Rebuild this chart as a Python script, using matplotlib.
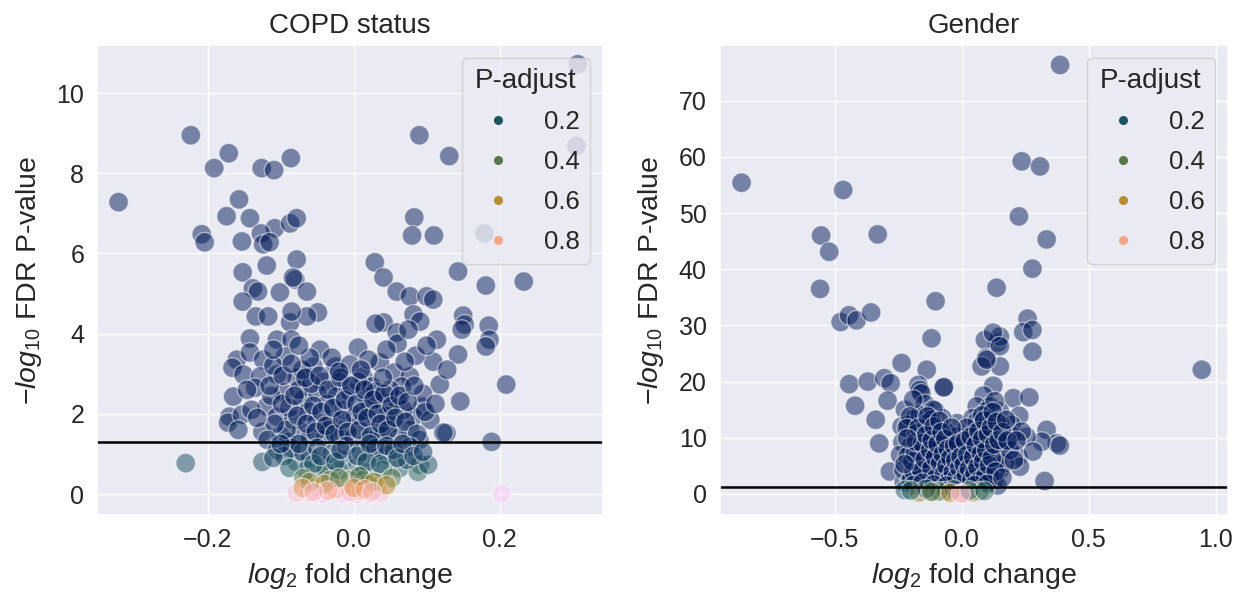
import numpy as np
import matplotlib.pyplot as plt
import seaborn as sns
from matplotlib.colors import LinearSegmentedColormap, Normalize
from matplotlib.lines import Line2D
from matplotlib.ticker import MultipleLocator

sns.set_theme(style="darkgrid")
plt.rcParams['font.family'] = ['Liberation Sans', 'DejaVu Sans']
plt.rcParams['mathtext.fontset'] = 'custom'
plt.rcParams['mathtext.rm'] = 'Liberation Sans'
plt.rcParams['mathtext.it'] = 'Liberation Sans:italic'
plt.rcParams.update({
    'xtick.labelsize': 18, 'ytick.labelsize': 18,
    'axes.labelsize': 20.5, 'axes.titlesize': 20,
    'legend.fontsize': 18.5, 'legend.title_fontsize': 20,
})

# ── COPD status: log2 fold change / -log10 FDR ────────────────────────────────
copd_lfc = [
    # upper-left tail
    -0.322, -0.223, -0.171, -0.191, -0.126, -0.109, -0.086, -0.157, -0.174, -0.142,
    -0.208, -0.204, -0.153, -0.108, -0.087, -0.078, -0.127, -0.124, -0.115, -0.152,
    -0.119, -0.078, -0.138, -0.131, -0.152, -0.101, -0.080, -0.064, -0.134, -0.117,
    -0.087, -0.049, -0.064, -0.142, -0.105, -0.085, -0.083, -0.085,
    # upper-right tail
    0.307, 0.305, 0.090, 0.131, 0.083, 0.080, 0.110, 0.179, 0.029, 0.041,
    0.059, 0.077, 0.100, 0.109, 0.143, 0.181, 0.233, 0.150, 0.152, 0.148,
    0.185, 0.186, 0.181, 0.143, 0.209, 0.146, 0.189, 0.127, 0.041, 0.082,
    0.091, 0.114, 0.059, 0.030, 0.060, 0.075,
    # core
    -0.046, 0.006, -0.160, -0.142, -0.124, -0.094, -0.055, -0.025, -0.005, 0.036,
    0.056, 0.077, 0.109, 0.118, 0.128, -0.166, -0.151, -0.128, -0.105, -0.078,
    -0.042, -0.019, 0.013, 0.025, 0.066, 0.094, -0.165, -0.170, -0.172, -0.153,
    -0.119, -0.096, -0.069, -0.050, -0.023, -0.005, 0.018, 0.041, 0.059, 0.082,
    0.105, 0.123, -0.125, -0.105, -0.083, -0.050, -0.030, -0.009, 0.013, 0.032,
    0.054, 0.077,
    -0.088, -0.075, -0.062, -0.058, -0.036, -0.033, -0.014, 0.002, 0.006, 0.022,
    0.030, 0.045, 0.050, 0.068, -0.072, -0.060, -0.040, -0.020, 0.000, 0.020,
    0.040, 0.062, -0.100, -0.113, -0.135, -0.140, -0.110, -0.070, -0.030, 0.020,
    0.045, 0.085, 0.095, 0.100, 0.090, -0.090,
    -0.115, -0.098, -0.092, -0.081, -0.077, -0.066, -0.064, -0.055, -0.052, -0.047,
    -0.044, -0.038, -0.035, -0.028, -0.026, -0.018, -0.016, -0.012, -0.008, -0.003,
    0.004, 0.008, 0.011, 0.015, 0.019, 0.024, 0.027, 0.033, 0.037, 0.042,
    0.047, 0.052, 0.057, 0.063, 0.071, 0.074, 0.083, 0.087, 0.098, 0.112,
    -0.108, -0.118, -0.132, -0.146, -0.158, -0.097, -0.060, -0.020, 0.010, 0.040,
    0.070, -0.085, -0.110, -0.075,
    # just below the threshold
    -0.230, -0.125, -0.105, -0.078, -0.060, -0.042, -0.015, 0.004, 0.026, 0.046,
    0.063, 0.077, 0.091, 0.088, 0.102, 0.073, -0.085, -0.070, -0.050, -0.030,
    -0.010, 0.010, 0.030, 0.055, -0.095, -0.040, -0.020, 0.015, 0.040, -0.065,
    -0.110, -0.088, -0.075, -0.055, -0.045, -0.025, -0.018, 0.005, 0.018, 0.022,
    0.036, 0.045, 0.060, 0.067, 0.082, 0.095, -0.100,
    # not significant
    0.052, -0.069, -0.050, -0.032, -0.005, 0.013, 0.032, -0.015, 0.004, 0.022,
    0.036, -0.042, -0.060, -0.078, 0.203, -0.025, 0.000, 0.020, -0.005, 0.010,
    -0.060, -0.040, -0.020, 0.008, 0.028, 0.045, -0.070, 0.000, 0.015, -0.035,
    0.025, -0.055,
]
copd_logp = [
    7.28, 8.95, 8.50, 8.13, 8.13, 8.08, 8.38, 7.35, 6.93, 6.88,
    6.48, 6.28, 6.30, 6.63, 6.75, 6.88, 6.50, 6.23, 6.28, 5.53,
    5.70, 5.85, 5.13, 5.05, 4.80, 5.03, 5.35, 5.05, 4.43, 4.43,
    4.28, 4.53, 4.43, 3.88, 3.85, 3.85, 5.40, 4.55,
    10.72, 8.68, 8.95, 8.43, 6.90, 6.45, 6.45, 6.50, 5.78, 5.40,
    5.05, 4.93, 4.93, 4.85, 5.55, 5.20, 5.30, 4.45, 4.23, 4.10,
    4.20, 3.85, 3.68, 3.48, 2.73, 2.31, 1.30, 1.52, 4.28, 4.48,
    4.30, 3.85, 4.03, 4.25, 3.75, 4.10,
    3.60, 3.65, 3.35, 3.53, 3.35, 3.43, 3.18, 3.18, 3.23, 3.28,
    3.03, 2.93, 3.30, 2.73, 3.10, 3.15, 2.98, 2.93, 2.98, 2.90,
    2.80, 2.78, 2.93, 2.68, 2.68, 2.18, 2.43, 1.93, 1.78, 1.98,
    2.18, 2.53, 2.35, 2.53, 2.43, 2.53, 2.43, 2.28, 2.35, 1.93,
    1.85, 1.53, 1.55, 1.93, 1.85, 1.78, 1.85, 1.68, 1.78, 1.60,
    1.78, 1.60,
    2.15, 2.60, 2.05, 2.75, 2.25, 1.60, 2.10, 1.95, 2.80, 2.15,
    2.55, 1.95, 2.60, 2.10, 1.55, 1.42, 1.38, 1.45, 1.40, 1.35,
    1.45, 1.40, 1.45, 2.45, 2.65, 2.10, 3.20, 3.10, 3.40, 3.35,
    3.60, 3.45, 2.50, 3.70, 1.35, 1.30,
    2.70, 2.25, 1.60, 2.45, 1.95, 2.90, 1.75, 2.20, 1.55, 2.95,
    2.05, 1.70, 2.60, 2.15, 1.50, 2.90, 1.85, 2.35, 1.55, 2.70,
    2.25, 1.60, 2.05, 2.60, 1.90, 1.45, 2.35, 2.00, 1.75, 2.50,
    1.60, 2.20, 1.90, 2.45, 1.80, 2.30, 2.70, 1.50, 2.05, 2.25,
    1.75, 1.35, 1.90, 2.60, 1.60, 2.95, 3.40, 3.05, 3.10, 2.90,
    3.30, 3.25, 3.60, 3.70,
    0.77, 0.80, 1.10, 0.80, 0.90, 0.73, 0.85, 0.68, 0.90, 0.98,
    0.65, 1.18, 0.73, 0.55, 0.73, 0.85, 1.15, 1.05, 1.15, 1.00,
    1.20, 1.05, 1.15, 1.10, 0.95, 0.55, 0.60, 0.55, 0.60, 0.60,
    0.90, 0.65, 1.25, 0.75, 0.95, 0.80, 1.10, 0.95, 0.80, 1.25,
    0.75, 1.20, 0.90, 1.25, 0.95, 1.05, 1.25,
    0.40, 0.40, 0.18, 0.35, 0.35, 0.35, 0.18, 0.00, 0.00, 0.00,
    0.03, 0.00, 0.03, 0.03, 0.00, 0.12, 0.20, 0.25, 0.05, 0.08,
    0.30, 0.25, 0.40, 0.45, 0.30, 0.22, 0.15, 0.15, 0.12, 0.08,
    0.05, 0.05,
]

# ── Gender: log2 fold change / -log10 FDR ─────────────────────────────────────
gender_lfc = [
    # tails
    0.387, -0.867, -0.467, 0.236, 0.308, 0.225, 0.334, -0.554, -0.522, -0.331,
    -0.558, 0.278, 0.137, -0.103, -0.477, -0.444, -0.414, -0.357, -0.119, 0.259,
    0.242, 0.278, 0.278, 0.141, 0.150, 0.091, 0.123, 0.150, 0.095, 0.078,
    0.124, 0.203, 0.266, -0.237, -0.138, -0.443, -0.370, -0.305, -0.280, -0.420,
    -0.292, -0.339, -0.073, -0.171, -0.165, -0.224, -0.325, 0.334, 0.374, 0.315,
    0.226, 0.945, 0.150, 0.098, -0.283, -0.237, -0.070, -0.018, 0.326, 0.386,
    -0.228, 0.086, -0.159, -0.145, -0.104, -0.077, -0.186, -0.213, -0.234,
    # core
    0.059, 0.111, 0.150, 0.196, 0.255, 0.043, 0.074, 0.124, 0.157, 0.222,
    -0.165, -0.112, -0.191, -0.204, -0.217, -0.178, -0.125, -0.073, -0.204, -0.243,
    -0.230, -0.165, -0.125, -0.059, -0.007, 0.032, 0.072, 0.124, 0.150, 0.085,
    0.019, -0.033, -0.099, -0.152, -0.204, 0.229, 0.281,
    -0.213, -0.172, -0.131, -0.077, -0.036, 0.005, 0.046, 0.059, 0.100, 0.127,
    0.154, 0.168, 0.195, 0.236, 0.141, 0.100, 0.059, 0.018, -0.023, -0.077,
    -0.131, -0.172, -0.200, -0.131, -0.077, -0.023, 0.032, 0.086, 0.127, 0.141,
    -0.050,
    -0.140, -0.120, -0.100, -0.090, -0.110, -0.150, -0.060, -0.040, -0.020, -0.050,
    -0.090, -0.130, -0.060, 0.000, 0.040, 0.070, 0.110, 0.060, 0.090, 0.100,
    0.080, 0.120, 0.130, 0.110, 0.030, 0.050, 0.020, -0.010, -0.170, -0.190,
    0.170, 0.190,
    -0.195, -0.185, -0.180, -0.170, -0.160, -0.155, -0.145, -0.140, -0.135, -0.125,
    -0.120, -0.118, -0.110, -0.105, -0.100, -0.095, -0.088, -0.085, -0.080, -0.075,
    -0.070, -0.065, -0.060, -0.055, -0.050, -0.045, -0.040, -0.035, -0.030, -0.025,
    -0.020, -0.015, -0.010, -0.005, 0.000, 0.008, 0.012, 0.016, 0.022, 0.028,
    0.035, 0.038, 0.045, 0.050, 0.055, 0.062, 0.066, 0.070, 0.076, 0.080,
    0.084, 0.088, 0.092, 0.097, 0.103, 0.107, 0.115, 0.118, 0.122, 0.128,
    0.133, 0.138, 0.145, 0.160, 0.175, 0.180, 0.205, 0.215, -0.215, -0.225,
    -0.190, -0.155, -0.110, -0.060, 0.050, 0.100, 0.160,
    # not significant
    -0.224, -0.168, -0.110, -0.063, 0.005, 0.020, 0.070, -0.030, -0.090, 0.040,
    -0.140, 0.000, 0.010, -0.200, -0.120, 0.030, 0.090, -0.045, -0.005,
]
gender_logp = [
    76.35, 55.40, 54.10, 59.20, 58.30, 49.40, 45.30, 46.00, 43.10, 46.20,
    36.50, 40.10, 36.70, 34.30, 30.60, 31.80, 30.90, 32.30, 27.70, 31.20,
    28.80, 29.20, 25.30, 26.90, 28.00, 27.40, 28.70, 22.70, 24.20, 22.70,
    19.25, 17.05, 17.20, 23.30, 22.10, 19.55, 20.00, 20.60, 19.70, 15.70,
    16.60, 13.20, 18.95, 19.40, 18.50, 15.00, 9.00, 11.40, 9.00, 9.30,
    13.90, 22.10, 26.30, 23.90, 4.00, 12.00, 19.00, 12.60, 2.30, 8.60,
    2.10, 17.50, 17.90, 16.00, 14.80, 13.50, 13.50, 12.30, 9.20,
    15.60, 15.60, 14.70, 12.30, 10.20, 13.50, 11.70, 10.80, 9.00, 6.65,
    14.10, 15.00, 16.80, 13.80, 11.70, 10.80, 10.80, 9.00, 8.40, 6.95,
    4.30, 6.65, 5.50, 6.10, 7.25, 8.40, 6.65, 6.65, 4.30, 4.00,
    4.85, 4.30, 3.70, 3.10, 2.50, 4.85, 7.55,
    6.75, 8.00, 9.80, 8.60, 7.40, 8.00, 9.20, 12.90, 14.80, 10.40,
    12.30, 8.00, 10.40, 11.10, 6.10, 4.30, 5.50, 4.30, 4.90, 4.30,
    5.20, 3.70, 2.45, 2.45, 1.80, 2.10, 1.80, 2.10, 2.45, 1.50,
    1.40,
    12.50, 13.20, 11.50, 10.00, 8.20, 7.40, 11.00, 9.50, 10.30, 5.20,
    6.80, 3.50, 3.00, 3.20, 3.50, 3.00, 3.20, 7.50, 9.50, 12.50,
    14.00, 13.50, 16.50, 8.20, 6.00, 10.80, 11.80, 5.60, 5.00, 4.00,
    5.50, 7.80,
    5.80, 7.20, 9.30, 11.80, 4.20, 9.00, 6.20, 10.50, 13.80, 7.80,
    4.50, 9.60, 12.00, 6.50, 2.90, 8.90, 13.00, 5.50, 11.00, 7.10,
    3.60, 9.80, 5.00, 8.00, 2.50, 6.40, 11.80, 3.90, 8.60, 6.00,
    2.90, 9.00, 4.60, 6.60, 2.20, 5.20, 9.50, 3.30, 7.00, 4.50,
    10.20, 2.60, 6.50, 3.80, 8.70, 4.80, 11.20, 2.40, 7.20, 9.80,
    5.80, 13.10, 3.20, 7.80, 10.60, 5.10, 11.80, 6.40, 14.60, 8.80,
    4.00, 12.80, 9.60, 11.00, 13.20, 9.50, 6.00, 9.50, 9.90, 5.30,
    1.60, 2.00, 1.70, 1.50, 1.60, 1.80, 2.90,
    0.70, 0.26, 0.35, 0.50, 0.05, 0.02, 0.50, 0.80, 0.45, 0.30,
    0.90, 0.00, 0.10, 0.60, 0.40, 0.60, 0.55, 0.20, 0.03,
]

PADJ_TICKS = [0.2, 0.4, 0.6, 0.8]
THRESHOLD = -np.log10(0.05)

# batlow-like sequential palette (navy -> teal -> olive -> gold -> salmon -> pink)
batlow = LinearSegmentedColormap.from_list("batlow", [
    (0.000, "#011959"), (0.125, "#103F60"), (0.250, "#226061"),
    (0.375, "#4D734D"), (0.500, "#828231"), (0.625, "#C09036"),
    (0.750, "#F19D6B"), (0.875, "#FDB3B4"), (1.000, "#FACCFA"),
])
norm = Normalize(0, 1)

fig = plt.figure(figsize=(12.42, 6.02), dpi=100)
ax1 = fig.add_axes([0.0784, 0.1445, 0.4071, 0.7807])
ax2 = fig.add_axes([0.5797, 0.1445, 0.4090, 0.7807])

panels = [
    (ax1, copd_lfc, copd_logp, "COPD status", (-0.351, 0.3415), (-0.524, 11.2), 0.2, 2),
    (ax2, gender_lfc, gender_logp, "Gender", (-0.952, 1.048), (-3.75, 79.9), 0.5, 10),
]

for ax, lfc, logp, title, xlim, ylim, xstep, ystep in panels:
    lfc = np.asarray(lfc)
    logp = np.asarray(logp)
    padj = 10 ** (-logp)
    ax.scatter(lfc, logp, c=padj, cmap=batlow, norm=norm, s=200, alpha=0.5,
               edgecolor="white", linewidth=1.0)
    ax.axhline(THRESHOLD, color="black", lw=1.8)
    ax.set_xlim(*xlim)
    ax.set_ylim(*ylim)
    ax.xaxis.set_major_locator(MultipleLocator(xstep))
    ax.yaxis.set_major_locator(MultipleLocator(ystep))
    ax.set_title(title, pad=9)
    ax.set_xlabel(r"$log_2$ fold change", labelpad=6)
    ax.set_ylabel(r"$-log_{10}$ FDR P-value", labelpad=9)

    handles = [Line2D([], [], marker="o", ls="", markersize=6.5, markeredgewidth=0,
                      color=batlow(norm(v))) for v in PADJ_TICKS]
    ax.legend(handles, [f"{v:.1f}" for v in PADJ_TICKS], title="P-adjust",
              loc="upper right", labelspacing=0.62)

plt.savefig("out.png", dpi=100)
